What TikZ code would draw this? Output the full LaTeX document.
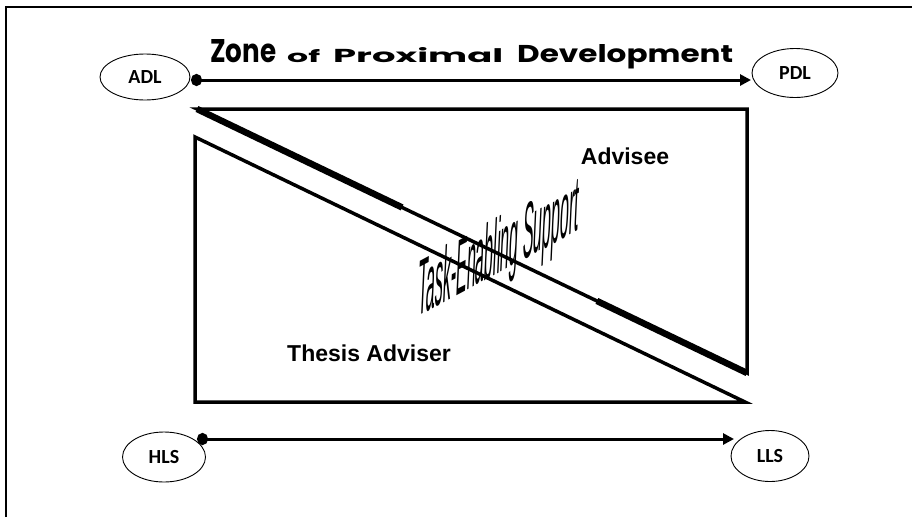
\documentclass[tikz,border=0pt]{standalone}
\usepackage{fontspec}
\setmainfont{Liberation Sans}
\newfontfamily\calib{Carlito}
\newfontfamily\zpd{Poppins}
\usetikzlibrary{arrows.meta,calc,shapes.geometric}
\begin{document}
\begin{tikzpicture}[x=1pt,y=1pt,
  oval/.style={draw, line width=0.9pt, ellipse, inner sep=0pt,
    font=\calib\bfseries\fontsize{20}{20}\selectfont},
  zarrow/.style={line width=3pt,
    {Circle[length=11pt,width=12pt]}-{Triangle[length=11pt,width=11pt]}},
  boxline/.style={line width=3.5pt, line join=miter},
  thickseg/.style={line width=6.5pt},
  boldlbl/.style={font=\bfseries\fontsize{23}{23}\selectfont, inner sep=0pt},
  titleword/.style={inner sep=0pt, anchor=base west, font=\zpd\bfseries\fontsize{20}{20}\selectfont}
]
\useasboundingbox (0,0) rectangle (912,-517);
% outer frame
\draw[line width=2pt] (6,-517) -- (6,-7) -- (912,-7);

% title
\node[titleword] (zone) at (210,-62) {\resizebox{66pt}{23pt}{Zone}};
\node[titleword] (of) at (287,-62) {\resizebox{33pt}{13pt}{of}};
\node[titleword] (prox) at (333,-62) {\resizebox{170pt}{15pt}{Proximal}};
\node[titleword] (dev) at (517,-62) {\resizebox{216pt}{18pt}{Development}};

% ellipses
\node[oval, minimum width=90pt, minimum height=46pt] (adl) at (145,-77) {ADL};
\node[oval, minimum width=86pt, minimum height=49pt] (pdl) at (795,-73) {PDL};
\node[oval, minimum width=83pt, minimum height=50pt] (hls) at (164,-457) {HLS};
\node[oval, minimum width=78pt, minimum height=51pt] (lls) at (770,-456) {LLS};

% arrows
\coordinate (zs) at (191,-80);
\coordinate (ze) at (751,-80);
\draw[zarrow] (zs) -- (ze);
\coordinate (ls) at (197,-439);
\coordinate (le) at (734,-439);
\draw[zarrow] (ls) -- (le);

% upper triangle (advisee)
\coordinate (ua) at (197,-109);
\coordinate (ub) at (747,-109);
\coordinate (uc) at (747,-373);
\draw[boxline] (ua) -- (ub) -- (uc) -- cycle;
\draw[thickseg] (ua) -- ($(ua)!0.373!(uc)$);
\draw[thickseg] ($(ua)!0.727!(uc)$) -- (uc);

% lower triangle (adviser)
\coordinate (la) at (195,-137);
\coordinate (lb) at (195,-402);
\coordinate (lc) at (745,-402);
\draw[boxline] (la) -- (lb) -- (lc) -- cycle;

% labels
\node[boldlbl, anchor=base] (advisee) at (625,-164) {Advisee};
\node[boldlbl, anchor=base west] (thesis) at (287,-361) {Thesis Adviser};

% slanted text
\begin{scope}[shift={(417,-317)}, cm={0.80,0.43,0.18,4.0,(0,0)}]
  \node[transform shape, anchor=base west, inner sep=0pt,
        font=\fontsize{20}{20}\selectfont] (tes) at (0,0) {Task-Enabling Support};
\end{scope}
\end{tikzpicture}
\end{document}
